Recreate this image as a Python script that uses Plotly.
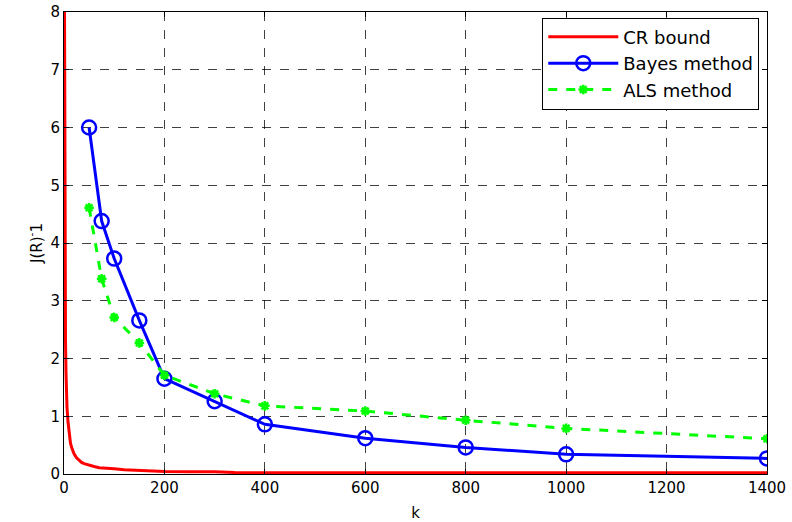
import plotly.graph_objects as go

# Sample sizes and error values for each estimator
k_cr = [1, 2, 3, 4, 5, 6, 8, 10, 13, 16, 20, 25, 30, 35, 40, 50, 60, 70, 80,
        100, 120, 140, 170, 200, 250, 300, 340, 400, 600, 800, 1000, 1200, 1400]
cr_bound = [8.2, 3.5, 2.3, 1.75, 1.4, 1.15, 0.9, 0.7, 0.53, 0.44, 0.35, 0.28,
            0.24, 0.2, 0.18, 0.15, 0.13, 0.11, 0.1, 0.09, 0.075, 0.065, 0.05,
            0.045, 0.04, 0.04, 0.025, 0.02, 0.02, 0.02, 0.02, 0.02, 0.02]

k_est = [50, 75, 100, 150, 200, 300, 400, 600, 800, 1000, 1400]
bayes = [6.0, 4.38, 3.73, 2.66, 1.65, 1.26, 0.86, 0.62, 0.46, 0.34, 0.27]
als = [4.61, 3.38, 2.71, 2.27, 1.71, 1.39, 1.18, 1.09, 0.93, 0.79, 0.61]

x_ticks = [0, 200, 400, 600, 800, 1000, 1200, 1400]
y_ticks = [0, 1, 2, 3, 4, 5, 6, 7, 8]

FONT = "DejaVu Sans, Liberation Sans, sans-serif"

fig = go.Figure()
fig.add_trace(go.Scatter(
    x=k_cr, y=cr_bound, name="CR bound", mode="lines",
    line=dict(color="#ff0000", width=3),
))
fig.add_trace(go.Scatter(
    x=k_est, y=bayes, name="Bayes method", mode="lines+markers",
    line=dict(color="#0000ff", width=3),
    marker=dict(symbol="circle-open", size=14, color="#0000ff",
                line=dict(width=2.5, color="#0000ff")),
))
fig.add_trace(go.Scatter(
    x=k_est, y=als, name="ALS method", mode="lines+markers",
    line=dict(color="#00ff00", width=3, dash="dash"),
    marker=dict(symbol="asterisk-open", size=8, color="#00ff00",
                line=dict(width=2.5, color="#00ff00")),
))

axis_common = dict(
    showline=True, linecolor="black", linewidth=1, mirror="ticks",
    ticks="inside", ticklen=5, tickcolor="black",
    showgrid=True, gridcolor="rgba(0,0,0,0.75)", gridwidth=1, griddash="dash",
    zeroline=False, automargin=False,
    tickfont=dict(family=FONT, size=15, color="black"),
)

fig.update_xaxes(range=[0, 1400], tickvals=x_ticks,
                 title=dict(text="k", font=dict(family=FONT, size=15, color="black"),
                            standoff=12),
                 **axis_common)
fig.update_yaxes(range=[0, 8], tickvals=y_ticks,
                 title=dict(text="J(R)<sup>-</sup>1",
                            font=dict(family=FONT, size=15, color="black"),
                            standoff=4),
                 **axis_common)

fig.update_layout(
    width=792, height=522,
    margin=dict(l=64, r=25, t=12, b=48, autoexpand=False),
    paper_bgcolor="white", plot_bgcolor="white",
    showlegend=True,
    legend=dict(
        x=0.989, y=0.988, xanchor="right", yanchor="top",
        bgcolor="white", bordercolor="black", borderwidth=1,
        font=dict(family=FONT, size=18, color="black"),
        itemwidth=70, tracegroupgap=0,
    ),
)

fig.write_html("out.html")
